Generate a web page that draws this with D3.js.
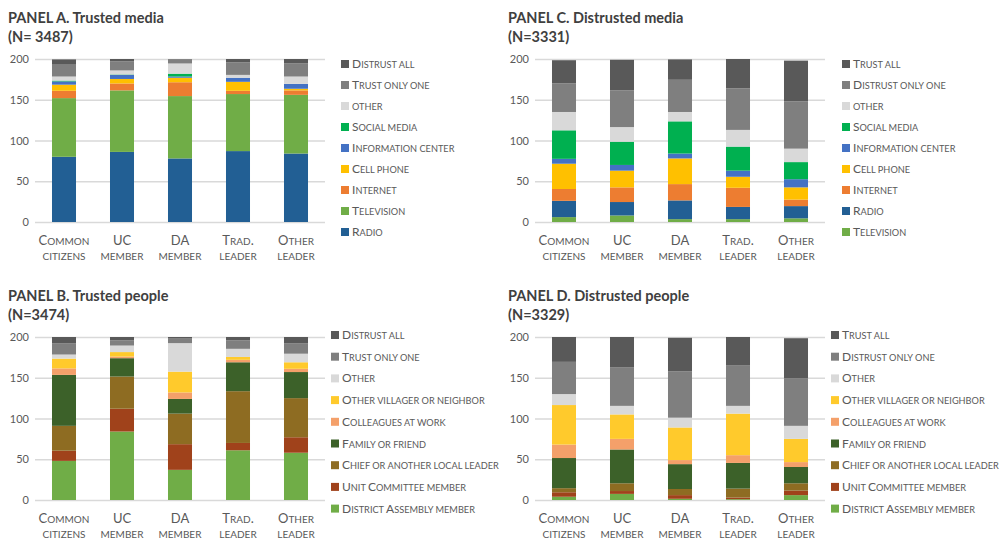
<!DOCTYPE html>
<head>
  <title>Trusted and distrusted sources by respondent group</title>
  <style>
    body { margin: 0; background: #fff; }
    text { font-family: "Lato", "Open Sans", sans-serif; fill: #595959; }
    .title { font-weight: bold; font-size: 14.5px; fill: #404040; }
  </style>
</head>

<body>

  <script src="https://cdnjs.cloudflare.com/ajax/libs/d3/7.8.5/d3.min.js"></script>

  <script>

    // categories on the x axis (two lines each)
    var categories = ["Common citizens", "UC member", "DA member", "Trad. leader", "Other leader"];
    var catTop = ["Common", "UC", "DA", "Trad.", "Other"];
    var catBottom = ["citizens", "member", "member", "leader", "leader"];
    var yTicks = [0, 50, 100, 150, 200];

    // PANEL A - series listed bottom to top
    var trustedMediaSeries = ["Radio", "Television", "Internet", "Cell phone", "Information center",
                              "Social media", "other", "Trust only one", "Distrust all"];
    var trustedMediaValues = [
      [80, 86, 78, 87, 84],
      [72, 75.5, 76.5, 70, 72],
      [9, 8.5, 17, 4, 5.5],
      [7.5, 5.5, 5.5, 11, 2],
      [4, 5, 1.5, 5, 6],
      [1, 0.5, 3.5, 0, 0],
      [5, 5, 12.5, 3.5, 9],
      [14.5, 11, 5, 15.5, 16],
      [6.5, 3, 0.5, 4, 5.5]
    ];
    var trustedMediaColors = ["#225f94", "#70ad47", "#ed7d31", "#ffc000", "#4472c4",
                              "#00b050", "#d9d9d9", "#7f7f7f", "#595959"];

    // PANEL C
    var distrustedMediaSeries = ["Television", "Radio", "Internet", "Cell phone", "Information center",
                                 "Social media", "other", "Distrust only one", "Trust all"];
    var distrustedMediaValues = [
      [6, 8, 3.5, 3.5, 4.5],
      [20, 16.5, 23, 15, 15],
      [14.5, 18, 20, 23.5, 8],
      [31, 20.5, 31.5, 13.5, 15],
      [6, 7, 6, 7.5, 10],
      [35, 28.5, 39.5, 29.5, 21],
      [22.5, 18, 11.5, 20.5, 16.5],
      [35, 45, 39.5, 51, 58],
      [28.5, 37.5, 25, 36, 50]
    ];
    var distrustedMediaColors = ["#70ad47", "#225f94", "#ed7d31", "#ffc000", "#4472c4",
                                 "#00b050", "#d9d9d9", "#7f7f7f", "#595959"];

    // PANEL B
    var trustedPeopleSeries = ["District Assembly member", "Unit Committee member", "Chief or another local leader",
                               "Family or friend", "Colleagues at work", "Other villager or neighbor",
                               "Other", "Trust only one", "Distrust all"];
    var trustedPeopleValues = [
      [48, 84, 37, 61, 58],
      [12.5, 28, 31.5, 9, 19],
      [30.5, 39.5, 37.5, 63.5, 48],
      [62.5, 22.5, 18, 35.5, 32],
      [8, 2, 8, 3, 4],
      [12, 5.5, 25.5, 3.5, 8],
      [5, 8, 35, 10, 10.5],
      [13.5, 6.5, 5.5, 10.5, 12.5],
      [8, 4, 2, 4, 8]
    ];

    // PANEL D
    var distrustedPeopleSeries = ["District Assembly member", "Unit Committee member", "Chief or another local leader",
                                  "Family or friend", "Colleagues at work", "Other villager or neighbor",
                                  "Other", "Distrust only one", "Trust all"];
    var distrustedPeopleValues = [
      [4, 7.5, 1.5, 1, 6],
      [5.5, 3.5, 4.5, 2, 5.5],
      [5, 9.5, 7.5, 11, 9],
      [37, 41.5, 30.5, 31.5, 20],
      [16.5, 13, 5, 9.5, 6],
      [48.5, 30, 40, 51, 28.5],
      [13.5, 10.5, 12, 9.5, 16],
      [39.5, 47, 57, 50, 58.5],
      [30.5, 37.5, 41, 34.5, 49]
    ];
    var peopleColors = ["#70ad47", "#a0421b", "#8e6c22", "#3c6129", "#f4a06a",
                        "#ffca2c", "#d9d9d9", "#7f7f7f", "#595959"];

    var w = 1004;
    var h = 542;

    var svg = d3.select("body").append("svg")
        .attr("width", w)
        .attr("height", h);

    // small caps by hand: capitals at full size, lower case letters as smaller capitals
    function scText(sel, str, big, small) {
      var runs = [];
      str.split("").forEach(function(ch) {
        var isSmall = ch !== ch.toUpperCase() || (ch === " " && runs.length && runs[runs.length - 1].small);
        if (runs.length && runs[runs.length - 1].small === isSmall) {
          runs[runs.length - 1].t += ch;
        } else {
          runs.push({ t: ch, small: isSmall });
        }
      });
      runs.forEach(function(r) {
        sel.append("tspan")
            .style("font-size", (r.small ? small : big) + "px")
            .text(r.t.toUpperCase());
      });
    }

    function drawPanel(p) {
      var g = svg.append("g")
          .attr("transform", "translate(" + p.x + "," + p.y + ")");

      var x = d3.scaleBand()
          .domain(categories)
          .range([35, 325])
          .paddingInner(0.586)
          .paddingOuter(0.293);

      var y = d3.scaleLinear()
          .domain([0, 200])
          .range([222, 59]);

      // gridlines + tick labels
      var yAxis = d3.axisLeft(y)
          .tickValues(yTicks)
          .tickSize(-290)
          .tickPadding(6);

      var ax = g.append("g")
          .attr("transform", "translate(35,0)")
          .call(yAxis);
      ax.select(".domain").remove();
      ax.selectAll(".tick line").attr("stroke", "#d9d9d9").attr("stroke-width", 1.3);
      ax.selectAll(".tick text")
          .style("font-family", "Lato, sans-serif")
          .style("font-size", "11px")
          .attr("fill", "#595959");

      // stack the series
      var table = categories.map(function(c, i) {
        var row = { cat: c };
        p.series.forEach(function(s, j) { row[s] = p.values[j][i]; });
        return row;
      });
      var stacked = d3.stack().keys(p.series)(table);

      g.selectAll("g.layer")
          .data(stacked)
          .enter()
          .append("g")
          .attr("class", "layer")
          .attr("fill", function(d, i) { return p.colors[i]; })
          .selectAll("rect")
          .data(function(d) { return d; })
          .enter()
          .append("rect")
          .attr("x", function(d) { return x(d.data.cat); })
          .attr("width", x.bandwidth())
          .attr("y", function(d) { return y(d[1]); })
          .attr("height", function(d) { return y(d[0]) - y(d[1]); });

      // x labels
      categories.forEach(function(c, i) {
        var cx = x(c) + x.bandwidth() / 2;
        g.append("text")
            .attr("x", cx)
            .attr("y", 245)
            .attr("text-anchor", "middle")
            .call(scText, catTop[i], 13, 10);
        g.append("text")
            .attr("x", cx)
            .attr("y", 260)
            .attr("text-anchor", "middle")
            .call(scText, catBottom[i], 13, 10);
      });

      // titles
      g.append("text")
          .attr("class", "title")
          .attr("x", 8)
          .attr("y", 23)
          .text(p.title);
      g.append("text")
          .attr("class", "title")
          .attr("x", 8)
          .attr("y", 42)
          .text(p.n);

      // legend, top item = last series
      var legendItems = p.series.slice().reverse();
      var legendColors = p.colors.slice().reverse();
      var lg = g.append("g");
      legendItems.forEach(function(s, i) {
        var ly = p.legendY + i * p.legendStep;
        lg.append("rect")
            .attr("x", p.legendX)
            .attr("y", ly - 4)
            .attr("width", 8)
            .attr("height", 8)
            .attr("fill", legendColors[i]);
        lg.append("text")
            .attr("x", p.legendX + 11)
            .attr("y", ly + 4)
            .call(scText, s, 12, 9.2);
      });
    }

    drawPanel({ x: 0, y: 0, title: "PANEL A. Trusted media", n: "(N= 3487)",
                series: trustedMediaSeries, values: trustedMediaValues, colors: trustedMediaColors,
                legendX: 341, legendY: 64, legendStep: 21 });
    drawPanel({ x: 500, y: 0, title: "PANEL C. Distrusted media", n: "(N=3331)",
                series: distrustedMediaSeries, values: distrustedMediaValues, colors: distrustedMediaColors,
                legendX: 342, legendY: 64, legendStep: 21 });
    drawPanel({ x: 0, y: 278, title: "PANEL B. Trusted people", n: "(N=3474)",
                series: trustedPeopleSeries, values: trustedPeopleValues, colors: peopleColors,
                legendX: 331, legendY: 57, legendStep: 21.7 });
    drawPanel({ x: 500, y: 278, title: "PANEL D. Distrusted people", n: "(N=3329)",
                series: distrustedPeopleSeries, values: distrustedPeopleValues, colors: peopleColors,
                legendX: 331, legendY: 57, legendStep: 21.7 });

  </script>

</body>
